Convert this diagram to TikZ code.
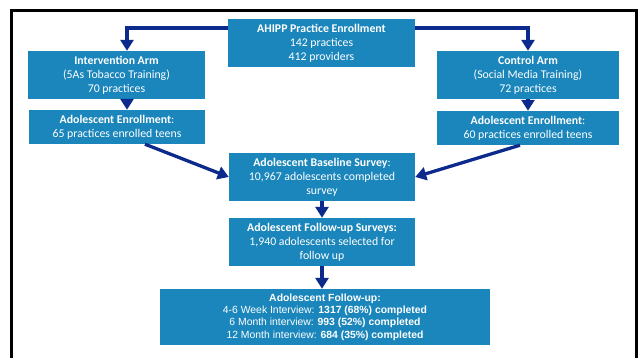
\documentclass[tikz,border=0pt]{standalone}
\usepackage{fontspec}
\setmainfont{Carlito}
\newfontfamily\arialfont{Liberation Sans}
\usetikzlibrary{arrows.meta}
\definecolor{boxblue}{HTML}{1A86BB}
\definecolor{arrnavy}{HTML}{0B2A8C}
\tikzset{
  fbox/.style={fill=boxblue, text=white, inner sep=0pt, align=center,
    font=\fontsize{11.8}{14}\selectfont},
  fubox/.style={fbox, font=\arialfont\fontsize{10.4}{12.3}\selectfont},
  arr/.style={draw=arrnavy, line width=3.3pt,
    -{Triangle[width=13pt,length=11pt]}},
}
\begin{document}
\begin{tikzpicture}[x=1pt,y=-1pt]
\useasboundingbox (0,0) rectangle (640,358);
\fill[white] (0,0) rectangle (640,358);
\draw[line width=3pt,black] (11,360) -- (11,11) -- (636,11) -- (636,360);

\node[fbox, minimum width=187pt, minimum height=48pt] (ahipp) at (321.5,43)
  {\textbf{AHIPP Practice Enrollment}\\142 practices\\412 providers};
\node[fbox, minimum width=177pt, minimum height=48pt] (int) at (116.5,75)
  {\textbf{Intervention Arm}\\(5As Tobacco Training)\\70 practices};
\node[fbox, minimum width=176pt, minimum height=34pt] (lenr) at (117,127)
  {\textbf{Adolescent Enrollment}:\\65 practices enrolled teens};
\node[fbox, minimum width=182pt, minimum height=48pt] (ctl) at (528,75)
  {\textbf{Control Arm}\\(Social Media Training)\\72 practices};
\node[fbox, minimum width=182pt, minimum height=34pt] (renr) at (528,128)
  {\textbf{Adolescent Enrollment}:\\60 practices enrolled teens};
\node[fbox, minimum width=186pt, minimum height=48pt] (base) at (322,177)
  {\textbf{Adolescent Baseline Survey}:\\10,967 adolescents completed\\survey};
\node[fbox, minimum width=186pt, minimum height=48pt] (fus) at (322,242)
  {\textbf{Adolescent Follow-up Surveys:}\\1,940 adolescents selected for\\follow up};
\node[fubox, minimum width=330pt, minimum height=56pt] (fu) at (325,317)
  {\textbf{Adolescent Follow-up:}\\4-6 Week Interview: \textbf{1317 (68\%) completed}\\6 Month interview: \textbf{993 (52\%) completed}\\12 Month interview: \textbf{684 (35\%) completed}};

\draw[arr] ([yshift=15pt]ahipp.west) -| ([xshift=10.5pt]int.north);
\draw[arr] ([yshift=15pt]ahipp.east) -| (ctl.north);
\draw[arr] ([xshift=10.5pt]int.south) -- ([xshift=10pt]lenr.north);
\draw[arr] (ctl.south) -- (renr.north);
\draw[arr] ([xshift=28pt]lenr.south) -- (base.west);
\draw[arr] ([xshift=-8pt]renr.south) -- (base.east);
\draw[arr] (base.south) -- (fus.north);
\draw[arr] (fus.south) -- (fus.south |- fu.north);
\end{tikzpicture}
\end{document}
